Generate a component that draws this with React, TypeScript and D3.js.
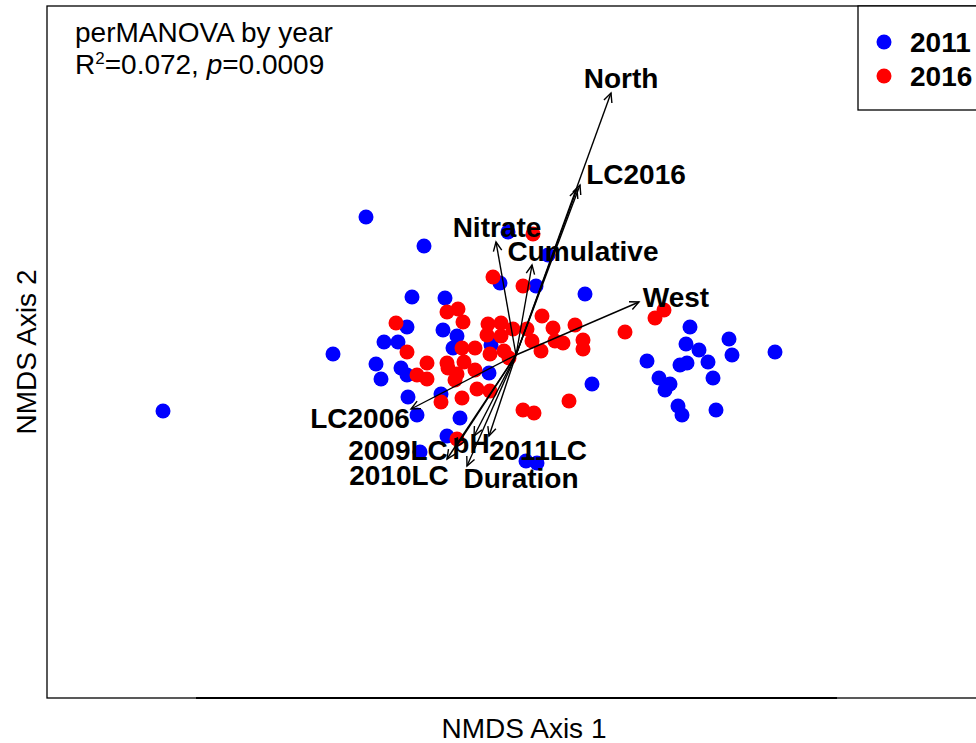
import React from "react";
import * as d3 from "d3";

// NMDS site scores, year 2011
const x2011 = [-1.412, -0.6, -0.368, -0.732, 1.036, 0.276, 0.696, 0.68, 0.732, 0.852, 0.864, 0.524, 0.656, 0.684, 0.768, 0.788, 0.572, 0.616, 0.596, 0.304, 0.648, 0.664, 0.8, -0.032, 0.128, -0.064, 0.08, -0.416, -0.284, -0.436, -0.292, -0.236, -0.528, -0.472, -0.252, -0.1, -0.56, -0.46, -0.54, -0.436, -0.108, -0.432, -0.3, -0.396, -0.224, -0.276, -0.384, 0.04, 0.084];
const y2011 = [-0.224, 0.552, 0.436, 0.004, 0.012, 0.244, 0.112, 0.044, 0.02, 0.064, 0.0, -0.024, -0.04, -0.032, -0.028, -0.092, -0.092, -0.116, -0.14, -0.116, -0.204, -0.24, -0.22, 0.492, 0.4, 0.288, 0.276, 0.232, 0.228, 0.112, 0.1, 0.076, 0.052, 0.052, 0.028, 0.04, -0.036, -0.052, -0.096, -0.08, -0.072, -0.168, -0.156, -0.24, -0.252, -0.324, -0.388, -0.424, -0.432];

// NMDS site scores, year 2016
const x2016 = [-0.092, 0.028, 0.068, -0.232, -0.276, -0.48, -0.212, -0.112, -0.06, -0.012, 0.044, -0.116, -0.06, 0.104, 0.236, 0.148, 0.064, 0.156, 0.188, 0.268, 0.268, 0.1, 0.556, 0.592, 0.436, 0.212, 0.028, 0.072, -0.436, -0.216, -0.164, -0.104, -0.048, -0.028, -0.164, -0.356, -0.276, -0.272, -0.208, -0.396, -0.356, -0.236, -0.244, -0.156, -0.104, -0.216, -0.3, -0.236];
const y2016 = [0.312, 0.276, 0.484, 0.184, 0.172, 0.128, 0.132, 0.124, 0.128, 0.104, 0.104, 0.08, 0.076, 0.156, 0.12, 0.108, 0.056, 0.056, 0.048, 0.06, 0.024, 0.016, 0.148, 0.18, 0.092, -0.184, -0.22, -0.232, 0.012, 0.028, 0.028, 0.004, 0.016, -0.012, -0.06, -0.032, -0.032, -0.052, -0.028, -0.08, -0.096, -0.076, -0.1, -0.136, -0.144, -0.172, -0.188, -0.336];

// Environmental vectors (envfit)
const vecNames = ["North", "LC2016", "", "Cumulative", "Nitrate", "West", "LC2006", "2009LC", "2010LC", "pH", "2011LC", "Duration"];
const vecX = [0.38, 0.256, 0.244, 0.064, -0.08, 0.492, -0.42, -0.24, -0.276, -0.168, -0.108, -0.196];
const vecY = [1.048, 0.68, 0.664, 0.36, 0.452, 0.212, -0.216, -0.368, -0.416, -0.324, -0.324, -0.444];
const labX = [0.42, 0.48, 0.48, 0.268, -0.076, 0.64, -0.624, -0.472, -0.468, -0.18, 0.088, 0.02];
const labY = [1.108, 0.724, 0.724, 0.416, 0.512, 0.232, -0.252, -0.38, -0.48, -0.352, -0.38, -0.492];

const years = ["2011", "2016"];
const colors = ["#0000FF", "#FF0000"];

const titleLine1 = "perMANOVA by year";
const xLabel = "NMDS Axis 1";
const yLabel = "NMDS Axis 2";

export default function App() {
  const W = 976;
  const H = 743;
  const xScale = d3.scaleLinear().domain([-1.5, 1.5]).range([141, 891]);
  const yScale = d3.scaleLinear().domain([-1, 1]).range([605, 105]);
  const font = "Liberation Sans, Arial, Helvetica, sans-serif";
  const r = 7.5;
  const fs = 28;

  const box = { left: 47, top: 6, right: 990, bottom: 698 };

  const arrowHead = (x0: number, y0: number, x1: number, y1: number) => {
    const ang = Math.atan2(y1 - y0, x1 - x0);
    const len = 10;
    const a = (25 * Math.PI) / 180;
    const p1 = [x1 - len * Math.cos(ang - a), y1 - len * Math.sin(ang - a)];
    const p2 = [x1 - len * Math.cos(ang + a), y1 - len * Math.sin(ang + a)];
    return `M${p1[0]},${p1[1]}L${x1},${y1}L${p2[0]},${p2[1]}`;
  };

  const pts2011 = x2011.map((v, i) => [v, y2011[i]]);
  const pts2016 = x2016.map((v, i) => [v, y2016[i]]);

  return (
    <svg width={W} height={H} style={{ position: "absolute", left: 0, top: 0, background: "#fff" }} fontFamily={font}>
      <rect x={0} y={0} width={W} height={H} fill="#fff" />
      {/* plot box */}
      <rect x={box.left} y={box.top} width={box.right - box.left} height={box.bottom - box.top} fill="none" stroke="#000" strokeWidth={1.3} />
      <line x1={196} x2={837} y1={box.bottom} y2={box.bottom} stroke="#000" strokeWidth={2} />

      {/* points */}
      {pts2011.map((p, i) => (
        <circle key={"b" + i} cx={xScale(p[0])} cy={yScale(p[1])} r={r} fill={colors[0]} />
      ))}
      {pts2016.map((p, i) => (
        <circle key={"r" + i} cx={xScale(p[0])} cy={yScale(p[1])} r={r} fill={colors[1]} />
      ))}

      {/* arrows */}
      {vecX.map((vx, i) => {
        const x0 = xScale(0), y0 = yScale(0);
        const x1 = xScale(vx), y1 = yScale(vecY[i]);
        return (
          <g key={"a" + i}>
            <line x1={x0} y1={y0} x2={x1} y2={y1} stroke="#000" strokeWidth={1.4} />
            <path d={arrowHead(x0, y0, x1, y1)} fill="none" stroke="#000" strokeWidth={1.4} />
          </g>
        );
      })}
      {vecNames.map((n, i) =>
        n ? (
          <text key={"l" + i} x={xScale(labX[i])} y={yScale(labY[i])} textAnchor="middle" dominantBaseline="central" fontWeight="bold" fontSize={fs}>
            {n}
          </text>
        ) : null
      )}

      {/* title */}
      <text x={75} y={42} fontSize={fs}>{titleLine1}</text>
      <text x={75} y={74} fontSize={fs}>
        R<tspan fontSize={17} dy={-10}>2</tspan>
        <tspan dy={10}>=0.072, </tspan>
        <tspan fontStyle="italic">p</tspan>
        <tspan>=0.0009</tspan>
      </text>

      {/* legend */}
      <rect x={858} y={6} width={140} height={104} fill="#fff" stroke="#000" strokeWidth={1.3} />
      {years.map((yr, i) => (
        <g key={yr}>
          <circle cx={884} cy={42 + i * 34} r={r} fill={colors[i]} />
          <text x={910} y={52 + i * 34} fontSize={fs} fontWeight="bold">{yr}</text>
        </g>
      ))}

      {/* axis labels */}
      <text x={524} y={738} textAnchor="middle" fontSize={fs}>{xLabel}</text>
      <text transform={`translate(36,352) rotate(-90)`} textAnchor="middle" fontSize={fs}>{yLabel}</text>
    </svg>
  );
}
